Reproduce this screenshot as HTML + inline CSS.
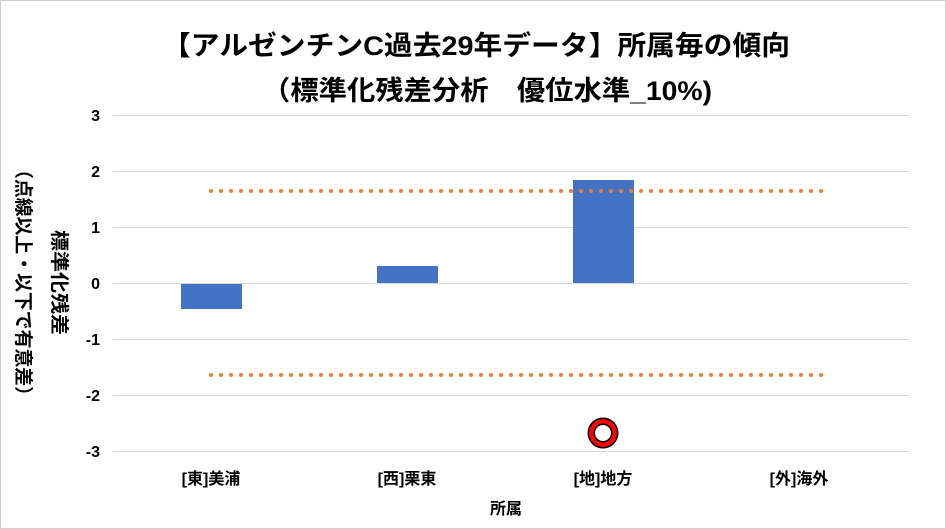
<!DOCTYPE html>
<html><head><meta charset="utf-8"><style>
html,body{margin:0;padding:0;background:#fff}
svg{display:block}
text{font-family:"Liberation Sans","Noto Sans CJK JP",sans-serif;font-weight:bold;fill:#000}
</style></head><body>
<svg width="946" height="529" viewBox="0 0 946 529">
<rect x="0.5" y="0.5" width="945" height="528" fill="#fff" stroke="#d0d0d0"/>
<text x="162" y="55" font-size="27" textLength="628" lengthAdjust="spacingAndGlyphs">【アルゼンチンC過去29年データ】所属毎の傾向</text>
<text x="262" y="100" font-size="27" textLength="450" lengthAdjust="spacingAndGlyphs">（標準化残差分析　優位水準_10%)</text>
<g stroke="#d9d9d9" stroke-width="1">
<line x1="113" x2="910" y1="115.5" y2="115.5"/>
<line x1="113" x2="910" y1="171.5" y2="171.5"/>
<line x1="113" x2="910" y1="227.5" y2="227.5"/>
<line x1="113" x2="910" y1="283.5" y2="283.5"/>
<line x1="113" x2="910" y1="339.5" y2="339.5"/>
<line x1="113" x2="910" y1="395.5" y2="395.5"/>
<line x1="113" x2="910" y1="451.5" y2="451.5"/>
</g>
<g font-size="16" text-anchor="end">
<text x="100" y="121">3</text><text x="100" y="177">2</text><text x="100" y="233">1</text>
<text x="100" y="289">0</text><text x="100" y="345">-1</text><text x="100" y="401">-2</text><text x="100" y="457">-3</text>
</g>
<g fill="#4472c4">
<rect x="181" y="284" width="61" height="25"/>
<rect x="377" y="266" width="61" height="17"/>
<rect x="573" y="180" width="61" height="103"/>
</g>
<g stroke="#ed7d31" stroke-width="4" stroke-dasharray="0,10" stroke-linecap="round">
<line x1="211" x2="823" y1="191" y2="191"/>
<line x1="211" x2="823" y1="375" y2="375"/>
</g>
<circle cx="603" cy="433" r="15.5" fill="#000"/>
<circle cx="603" cy="433" r="14" fill="#ff0000"/>
<circle cx="603" cy="433" r="9.5" fill="#000"/>
<circle cx="603" cy="433" r="8" fill="#fff"/>
<g font-size="16" text-anchor="middle">
<text x="211" y="484">[東]美浦</text><text x="407" y="484">[西]栗東</text>
<text x="603" y="484">[地]地方</text><text x="799" y="484">[外]海外</text>
<text x="506" y="514">所属</text>
</g>
<text font-size="19" transform="translate(17,160) rotate(90)" textLength="245" lengthAdjust="spacingAndGlyphs">（点線以上・以下で有意差）</text>
<text font-size="19" transform="translate(53,230) rotate(90)" textLength="105" lengthAdjust="spacingAndGlyphs">標準化残差</text>
</svg>
</body></html>
